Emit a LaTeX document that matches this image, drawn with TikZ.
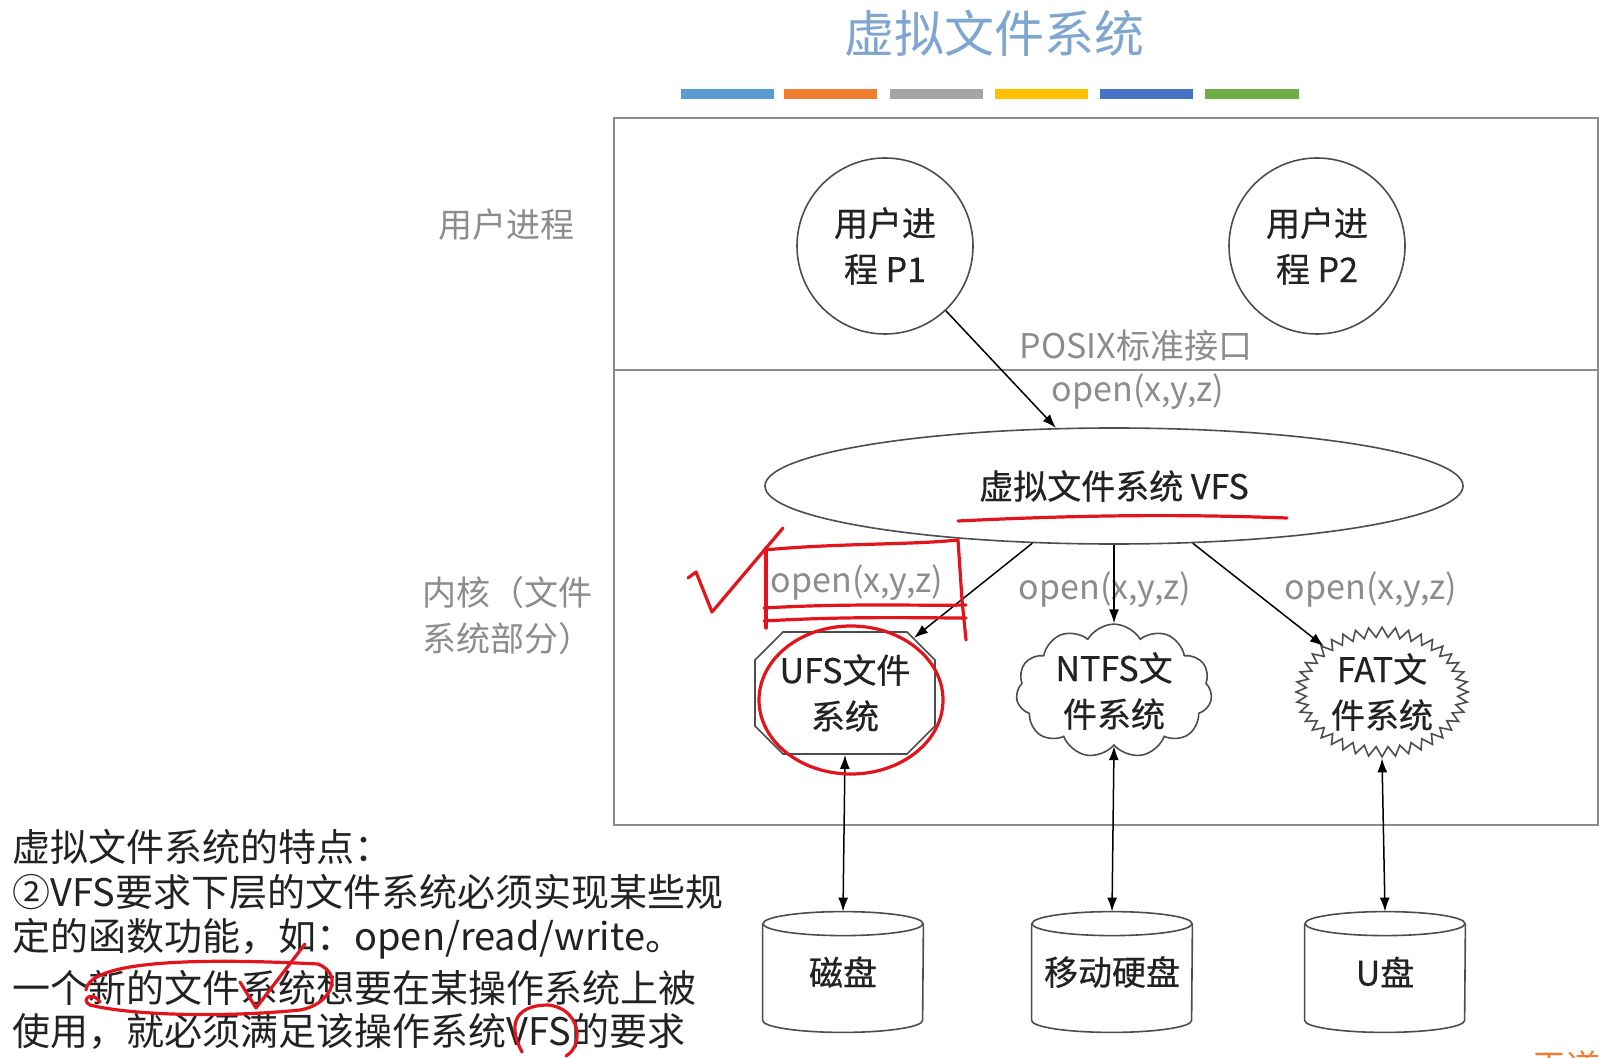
\documentclass[tikz,border=0pt]{standalone}
\usepackage{fontspec}
\setmainfont{Noto Sans CJK SC}
\newfontfamily\medfont[FakeBold=0.5]{Noto Sans CJK SC}
\usetikzlibrary{shapes.geometric,shapes.symbols,shapes.misc,arrows.meta,calc}
\definecolor{labgray}{HTML}{8C8C8C}
\definecolor{edgec}{HTML}{4D4D4D}
\definecolor{ttl}{HTML}{7EA6D0}
\definecolor{annot}{HTML}{E3141C}
\definecolor{barA}{HTML}{5B9BD5}
\definecolor{barB}{HTML}{ED7D31}
\definecolor{barC}{HTML}{A5A5A5}
\definecolor{barD}{HTML}{FFC000}
\definecolor{barE}{HTML}{4472C4}
\definecolor{barF}{HTML}{70AD47}
\definecolor{txtc}{HTML}{222222}
\begin{document}
\begin{tikzpicture}[x=0.5pt,y=-0.5pt,
  every node/.style={inner sep=0pt, align=center},
  lbl/.style={font=\fontsize{17pt}{23pt}\selectfont, text=labgray},
  inner/.style={font=\medfont\fontsize{17pt}{23pt}\selectfont, text=txtc},
  note/.style={font=\fontsize{19pt}{23pt}\selectfont, text=txtc, anchor=west},
  shapeline/.style={draw=edgec, line width=0.8pt},
  proc/.style={inner, shapeline, circle, minimum size=88pt},
  vfsnode/.style={inner, shapeline, ellipse, minimum width=349pt, minimum height=58pt},
  ufsnode/.style={inner, shapeline, chamfered rectangle, chamfered rectangle xsep=7pt, chamfered rectangle ysep=7pt, minimum width=90pt, minimum height=61pt},
  ntfsnode/.style={inner, shapeline, cloud, cloud puffs=11, cloud puff arc=120, aspect=1.6, minimum width=98pt, minimum height=61pt},
  fatnode/.style={inner, shapeline, starburst, starburst points=40, starburst point height=5pt, random starburst=0, minimum width=86pt, minimum height=58pt},
  cylbox/.style={inner, minimum width=80pt, minimum height=60pt},
  arr/.style={draw=black, line width=0.75pt, -{Latex[length=7pt,width=5pt]}},
  darr/.style={draw=black, line width=0.75pt, {Latex[length=7pt,width=5pt]}-{Latex[length=7pt,width=5pt]}},
  redpen/.style={draw=annot, line width=1.6pt, line cap=round, line join=round}
]
\fill[white] (0,0) rectangle (1604,1058);
\useasboundingbox (0,0) rectangle (1604,1058);

% title and colour bars
\node[font=\fontsize{25pt}{30pt}\selectfont, text=ttl] (title) at (994,33) {虚拟文件系统};
\fill[barA] (681,89) rectangle (774,99);
\fill[barB] (784,89) rectangle (877,99);
\fill[barC] (890,89) rectangle (983,99);
\fill[barD] (995,89) rectangle (1088,99);
\fill[barE] (1100,89) rectangle (1193,99);
\fill[barF] (1205,89) rectangle (1299,99);

% frame
\draw[draw=black!45, line width=0.8pt] (614,118) rectangle (1598,825);
\draw[draw=black!45, line width=0.8pt] (614,370) -- (1598,370);

% side labels
\node[lbl] (ulab) at (506,225) {用户进程};
\node[lbl, align=left] (klab) at (507,616) {内核（文件\\系统部分）};

% processes
\node[proc] (p1) at (885,246) {用户进\\程 P1};
\node[proc] (p2) at (1317,246) {用户进\\程 P2};

\node[lbl] (posix) at (1136,346) {POSIX标准接口};
\node[lbl] (o0) at (1138,392) {open(x,y,z)};

% VFS
\node[vfsnode] (vfs) at (1114,486) {虚拟文件系统 VFS};

\draw[arr] (p1) -- (vfs.135);

% file systems
\node[ufsnode] (ufs) at (845,693) {UFS文件\\系统};
\node[ntfsnode] (ntfs) at (1114,691) {NTFS文\\件系统};
\node[fatnode] (fat) at (1382,692) {FAT文\\件系统};

\node[lbl] (o1) at (857,583) {open(x,y,z)};
\node[lbl] (o2) at (1105,590) {open(x,y,z)};
\node[lbl] (o3) at (1371,590) {open(x,y,z)};

\draw[arr] (vfs.-145) -- (ufs);
\draw[arr] (vfs.south) -- (ntfs.north);
\draw[arr] (vfs.-36) -- (fat);

% storage
\node[cylbox] (disk) at (843,972) {磁盘};
\node[cylbox] (mdisk) at (1112,972) {移动硬盘};
\node[cylbox] (udisk) at (1385,972) {U盘};
\foreach \c in {disk,mdisk,udisk}{
  \draw[shapeline] ([yshift=-6pt]\c.north) ellipse [x radius=40pt, y radius=6pt];
  \draw[shapeline] ([yshift=-6pt]\c.north west) -- ([yshift=6pt]\c.south west)
     arc[start angle=180, end angle=360, x radius=40pt, y radius=6pt]
     -- ([yshift=-6pt]\c.north east);
}
\draw[darr] (ufs.south) -- (disk.north);
\draw[darr] (ntfs.south) -- (mdisk.north);
\draw[darr] (fat.south) -- (udisk.north);

% note text
\node[note] (n1) at (12,847) {虚拟文件系统的特点：};
\node[note] (n2) at (12,892) {②VFS要求下层的文件系统必须实现某些规};
\node[note] (n3) at (12,939) {定的函数功能，如：open/read/write。};
\node[note] (n4) at (12,988) {一个新的文件系统想要在某操作系统上被};
\node[note] (n5) at (12,1031) {使用，就必须满足该操作系统VFS的要求};

\node[font=\fontsize{17pt}{20pt}\selectfont, text=barB, anchor=north west] (logo) at (1532,1050) {王道};

% red hand annotations
\draw[redpen] (958,521) .. controls (1080,515) and (1180,514) .. (1287,518);
\draw[redpen] (688,578) -- (696,572) -- (712,612) -- (783,528);
\draw[redpen] (764,550) .. controls (840,543) and (910,545) .. (958,540) -- (962,600) -- (966,640);
\draw[redpen] (766,548) -- (766,628);
\draw[redpen] (764,608) .. controls (850,603) and (920,606) .. (966,605);
\draw[redpen] (764,621) .. controls (850,616) and (920,618) .. (966,618);
\draw[redpen] (851,700) ellipse [x radius=46pt, y radius=37pt];
\draw[redpen] (86,990) .. controls (90,960) and (200,958) .. (318,964)
   .. controls (345,975) and (330,1005) .. (300,1010)
   .. controls (220,1018) and (130,1015) .. (90,1005) .. controls (80,1000) and (92,990) .. (100,1002);
\draw[redpen] (240,982) -- (256,1008) -- (305,944);
\draw[redpen] (522,1052) .. controls (505,1020) and (520,1005) .. (548,1005)
   .. controls (580,1008) and (585,1045) .. (566,1056);
\end{tikzpicture}
\end{document}
